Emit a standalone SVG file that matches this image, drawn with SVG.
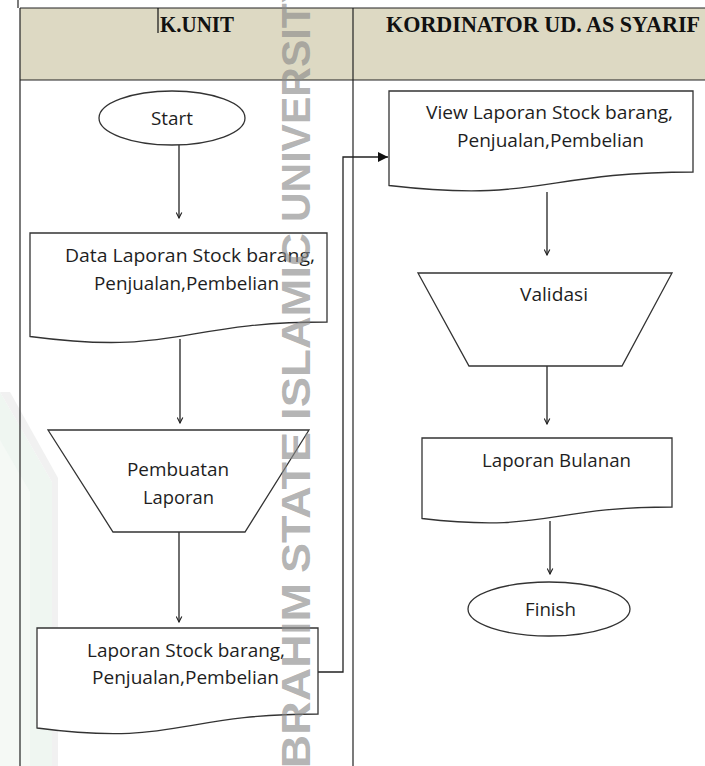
<svg xmlns="http://www.w3.org/2000/svg" width="705" height="766" viewBox="0 0 705 766">
  <style>
    .shape { fill: #ffffff; stroke: #333333; stroke-width: 1.3; }
    .conn { fill: none; stroke: #222222; stroke-width: 1.3; }
    .lbl { font-family: "Open Sans", "Noto Sans", sans-serif; font-size: 18.5px; fill: #1e1e1e; }
    .hdr { font-family: "Liberation Serif", "Times New Roman", serif; font-size: 24px; font-weight: bold; fill: #111111; }
    .grid { stroke: #222222; stroke-width: 1.2; fill: none; }
    .wm { font-family: "Liberation Sans", Arial, sans-serif; font-size: 41px; font-weight: bold; fill: #8a8a8a; fill-opacity: 0.65; }
  </style>
  <defs>
    <marker id="open" viewBox="0 0 10 10" refX="9" refY="5" markerWidth="7" markerHeight="7" markerUnits="userSpaceOnUse" orient="auto">
      <path d="M1,1 L9,5 L1,9" fill="none" stroke="#222222" stroke-width="1.6"/>
    </marker>
    <marker id="solid" viewBox="0 0 10 10" refX="10" refY="5" markerWidth="11" markerHeight="10" markerUnits="userSpaceOnUse" orient="auto">
      <path d="M0,0 L10,5 L0,10 Z" fill="#111111"/>
    </marker>
  </defs>

  <rect x="0" y="0" width="705" height="766" fill="#ffffff"/>

  <!-- faint background logo watermark -->
  <g id="bg-watermark" opacity="0.9">
    <polygon points="0,392 52,482 52,766 0,766" fill="#eef6f0"/>
    <polygon points="0,440 30,492 30,766 0,766" fill="#f4f9f5"/>
    <polygon points="0,392 10,392 58,478 58,766 52,766 52,482" fill="#f0f0f0"/>
  </g>

  <!-- swimlane table -->
  <g id="lanes">
    <rect x="20" y="8" width="685" height="72" fill="#ddd9c3"/>
    <line class="grid" x1="20" y1="8" x2="705" y2="8"/>
    <line class="grid" x1="20" y1="80" x2="705" y2="80"/>
    <line class="grid" x1="20" y1="8" x2="20" y2="766"/>
    <line class="grid" x1="353" y1="8" x2="353" y2="766"/>
    <line class="grid" x1="18" y1="0" x2="18" y2="8"/>
    <line x1="158" y1="8" x2="158" y2="33" stroke="#111111" stroke-width="1.2"/>
    <text class="hdr" x="160" y="32" textLength="74" lengthAdjust="spacingAndGlyphs">K.UNIT</text>
    <text class="hdr" x="386" y="32" textLength="314" lengthAdjust="spacingAndGlyphs">KORDINATOR UD. AS SYARIF</text>
  </g>

  <!-- connectors -->
  <g id="connectors">
    <line class="conn" x1="179" y1="145" x2="179" y2="218" marker-end="url(#open)"/>
    <line class="conn" x1="180" y1="339" x2="180" y2="423" marker-end="url(#open)"/>
    <line class="conn" x1="179" y1="532" x2="179" y2="622" marker-end="url(#open)"/>
    <polyline class="conn" points="318,672 343,672 343,157 388,157" marker-end="url(#solid)"/>
    <line class="conn" x1="547" y1="192" x2="547" y2="255" marker-end="url(#open)"/>
    <line class="conn" x1="547" y1="366" x2="547" y2="424" marker-end="url(#open)"/>
    <line class="conn" x1="550" y1="521" x2="550" y2="574" marker-end="url(#open)"/>
  </g>

  <!-- K.UNIT lane nodes -->
  <g id="start">
    <ellipse class="shape" cx="172" cy="118" rx="73" ry="27"/>
    <text class="lbl" x="151" y="125" textLength="42" lengthAdjust="spacingAndGlyphs">Start</text>
  </g>
  <g id="data-laporan">
    <path class="shape" d="M30,233 H327 V322 C178.5,322 178.5,356 30,336.5 Z"/>
    <text class="lbl" x="65" y="262" textLength="250" lengthAdjust="spacingAndGlyphs">Data Laporan Stock barang,</text>
    <text class="lbl" x="94" y="290" textLength="185" lengthAdjust="spacingAndGlyphs">Penjualan,Pembelian</text>
  </g>
  <g id="pembuatan-laporan">
    <polygon class="shape" points="48,430 309,430 245,532 113,532"/>
    <text class="lbl" x="127" y="476" textLength="102" lengthAdjust="spacingAndGlyphs">Pembuatan</text>
    <text class="lbl" x="143" y="504" textLength="71" lengthAdjust="spacingAndGlyphs">Laporan</text>
  </g>
  <g id="laporan-stock">
    <path class="shape" d="M37,628 H318 V714 C177.5,714 177.5,746.5 37,728 Z"/>
    <text class="lbl" x="87" y="657" textLength="198" lengthAdjust="spacingAndGlyphs">Laporan Stock barang,</text>
    <text class="lbl" x="92" y="684" textLength="187" lengthAdjust="spacingAndGlyphs">Penjualan,Pembelian</text>
  </g>

  <!-- KORDINATOR lane nodes -->
  <g id="view-laporan">
    <path class="shape" d="M389,91 H693 V172 C541,172 541,203 389,185.5 Z"/>
    <text class="lbl" x="426" y="119" textLength="247" lengthAdjust="spacingAndGlyphs">View Laporan Stock barang,</text>
    <text class="lbl" x="457" y="147" textLength="187" lengthAdjust="spacingAndGlyphs">Penjualan,Pembelian</text>
  </g>
  <g id="validasi">
    <polygon class="shape" points="418,273 672,273 622,366 469,366"/>
    <text class="lbl" x="520" y="301" textLength="68" lengthAdjust="spacingAndGlyphs">Validasi</text>
  </g>
  <g id="laporan-bulanan">
    <path class="shape" d="M422,438 H672 V507 C547,507 547,533 422,518.5 Z"/>
    <text class="lbl" x="482" y="467" textLength="149" lengthAdjust="spacingAndGlyphs">Laporan Bulanan</text>
  </g>
  <g id="finish">
    <ellipse class="shape" cx="549" cy="609" rx="81" ry="27"/>
    <text class="lbl" x="525" y="616" textLength="51" lengthAdjust="spacingAndGlyphs">Finish</text>
  </g>

  <!-- vertical text watermark -->
  <g id="text-watermark">
    <text class="wm" transform="translate(310,222) rotate(-90)">UNIVERSITY</text>
    <text class="wm" transform="translate(310,420) rotate(-90)" textLength="187" lengthAdjust="spacingAndGlyphs">ISLAMIC</text>
    <text class="wm" transform="translate(310,573) rotate(-90)" textLength="141" lengthAdjust="spacingAndGlyphs">STATE</text>
    <text class="wm" transform="translate(310,781) rotate(-90)" textLength="198" lengthAdjust="spacingAndGlyphs">IBRAHIM</text>
  </g>
</svg>
